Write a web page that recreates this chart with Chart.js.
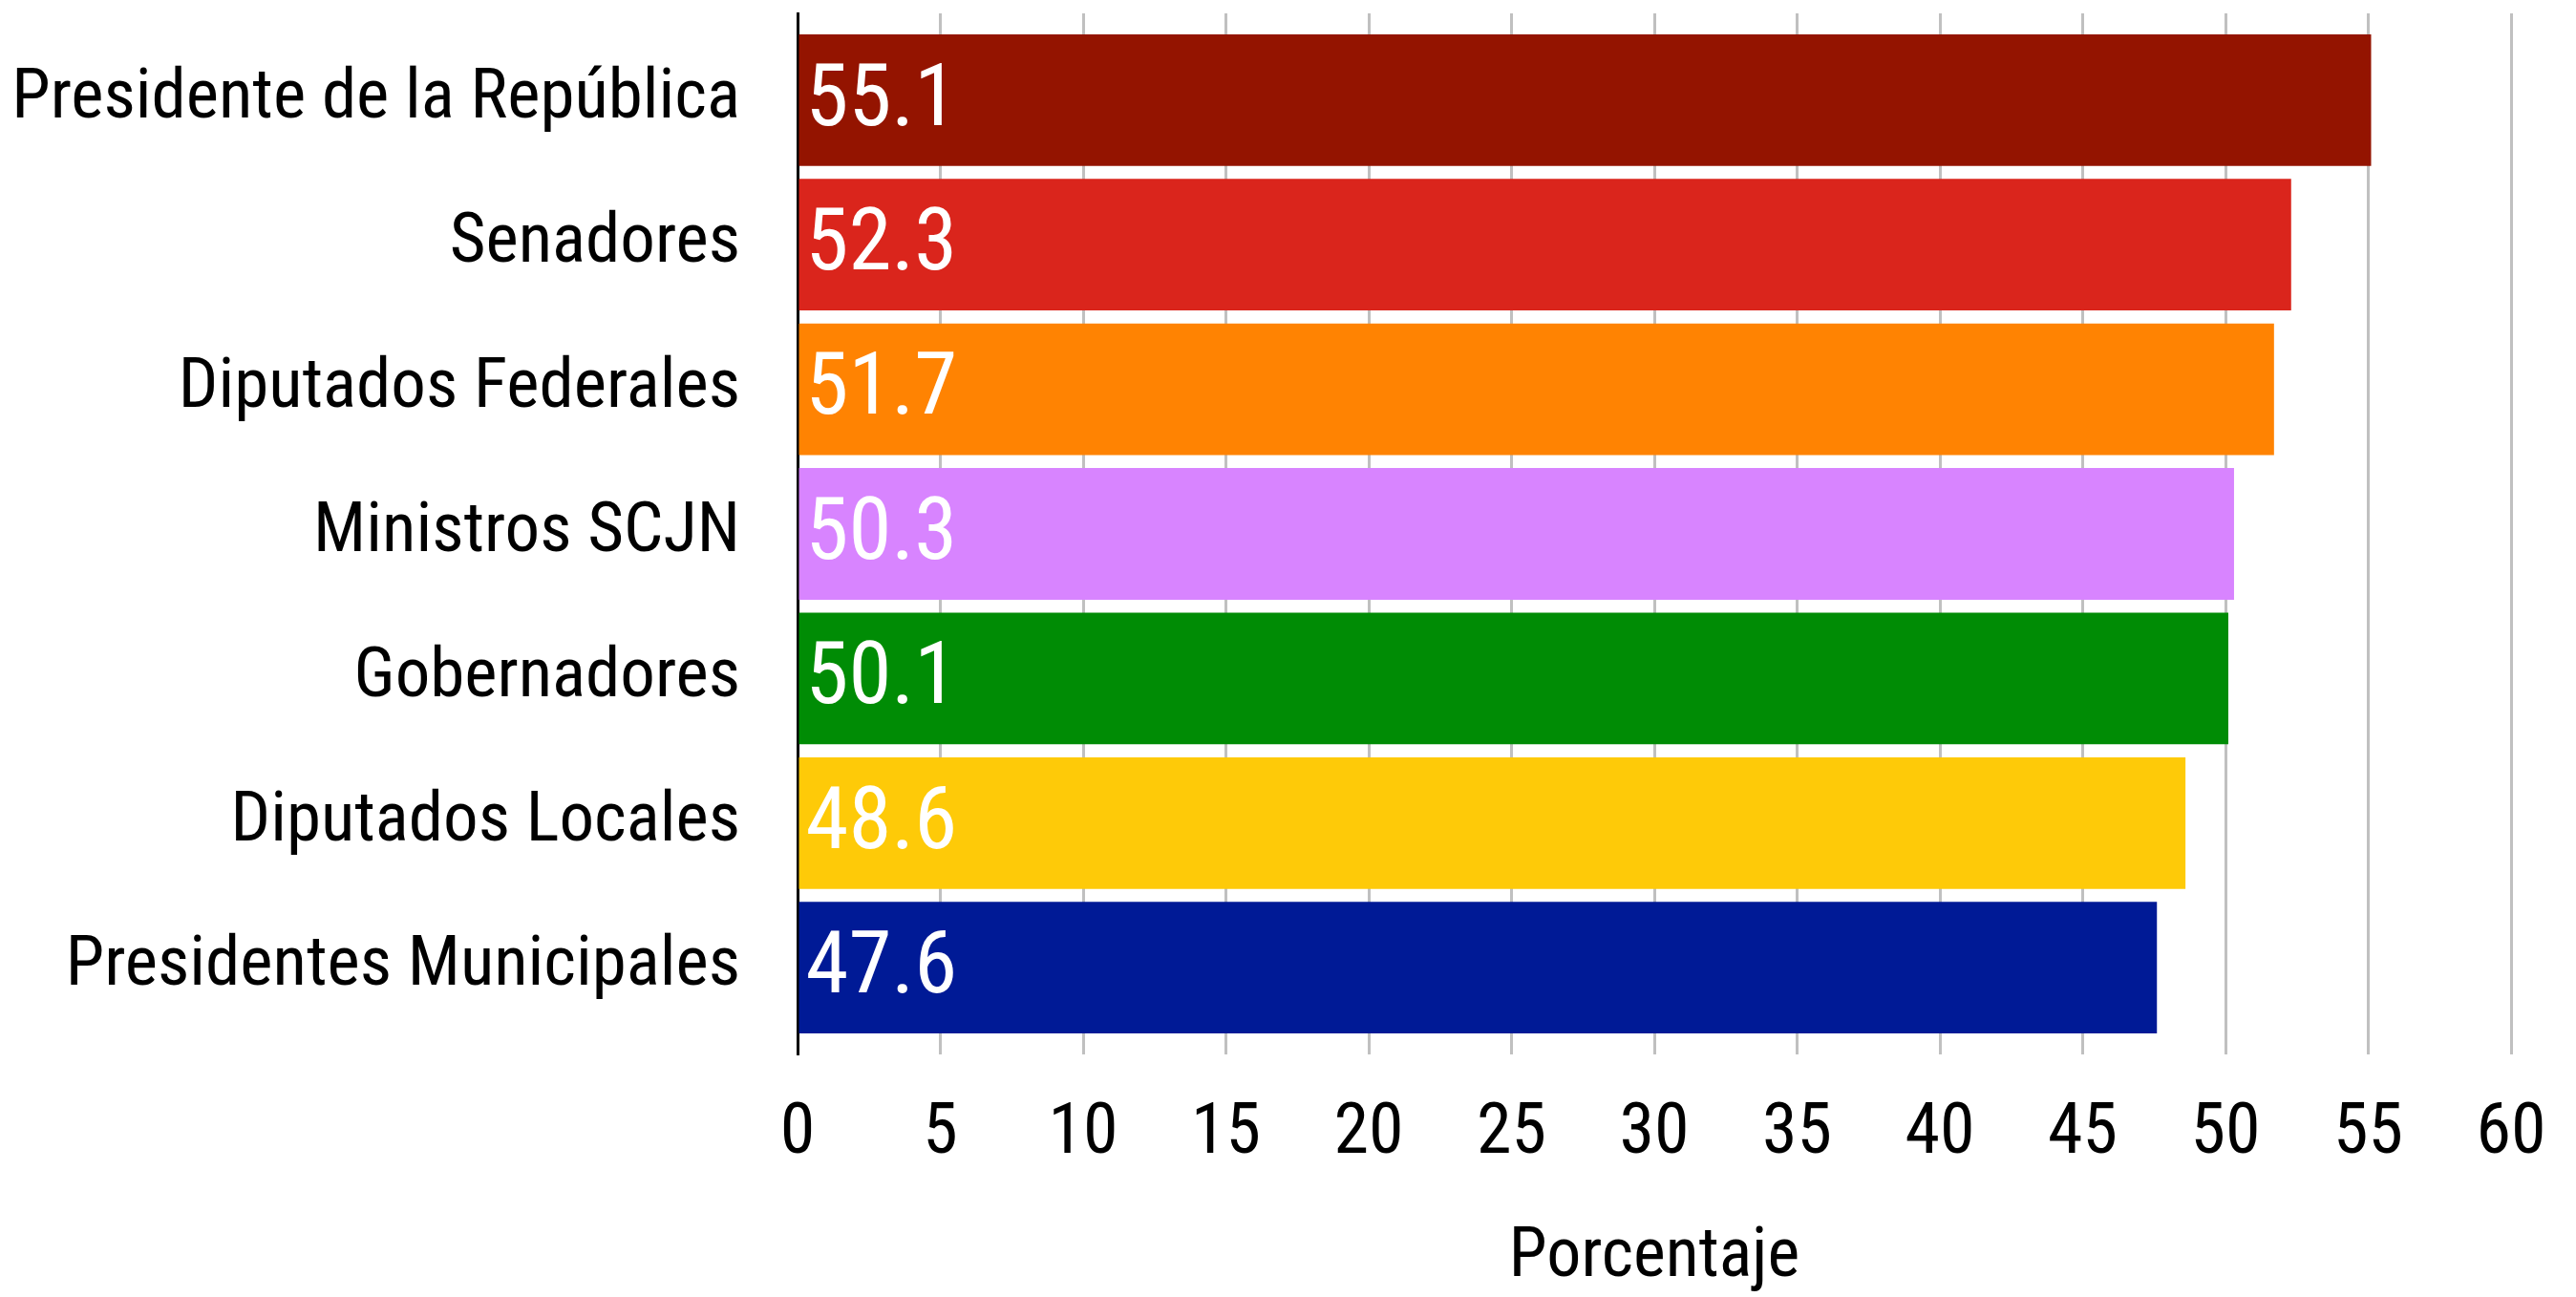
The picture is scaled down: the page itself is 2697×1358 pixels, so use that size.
<!DOCTYPE html>
<html>
<head>
<meta charset="utf-8">
<script src="https://cdn.jsdelivr.net/npm/chart.js@4"></script>
<style>
  html, body { margin: 0; padding: 0; background: #fff; }
  #wrap { width: 2697px; height: 1358px; }
</style>
</head>
<body>
<div id="wrap"><canvas id="chart" width="2697" height="1358"></canvas></div>
<script>
// Categories, values and colours
const categories = [
  'Presidente de la República',
  'Senadores',
  'Diputados Federales',
  'Ministros SCJN',
  'Gobernadores',
  'Diputados Locales',
  'Presidentes Municipales'
];
const values = [55.1, 52.3, 51.7, 50.3, 50.1, 48.6, 47.6];
const barColors = ['#941400', '#da251c', '#ff8302', '#d884ff', '#008c05', '#feca08', '#001a96'];
const xTicks = [0, 5, 10, 15, 20, 25, 30, 35, 40, 45, 50, 55, 60];
const xTitle = 'Porcentaje';

const FONT = "'Roboto Condensed', 'Liberation Sans Narrow', 'DejaVu Sans Condensed', Roboto, sans-serif";

// Bars placed on a linear y axis so the margins around the bars match
const points = values.map((v, i) => ({ x: v, y: i }));

// Write each value in white at the start of its bar
const valueLabels = {
  id: 'valueLabels',
  afterDatasetsDraw(chart) {
    const ctx = chart.ctx;
    const meta = chart.getDatasetMeta(0);
    ctx.save();
    ctx.fillStyle = '#ffffff';
    ctx.font = '91px ' + FONT;
    ctx.textAlign = 'left';
    ctx.textBaseline = 'middle';
    meta.data.forEach((bar, i) => {
      ctx.fillText(values[i].toFixed(1), bar.base + 7, bar.y + 3);
    });
    ctx.restore();
  }
};

new Chart(document.getElementById('chart'), {
  type: 'bar',
  data: {
    datasets: [{
      data: points,
      backgroundColor: barColors,
      borderWidth: 0,
      barPercentage: 0.91,
      categoryPercentage: 1
    }]
  },
  options: {
    indexAxis: 'y',
    responsive: false,
    animation: false,
    layout: { padding: { top: 14, right: 68, bottom: 0, left: 0 } },
    plugins: {
      legend: { display: false },
      tooltip: { enabled: false }
    },
    scales: {
      x: {
        type: 'linear',
        min: 0,
        max: 60,
        afterBuildTicks: scale => { scale.ticks = xTicks.map(v => ({ value: v })); },
        afterFit: scale => {
          scale.height = 254;
          scale.paddingLeft = 0;
          scale.paddingRight = 0;
        },
        grid: { color: '#c0c0c0', lineWidth: 3, drawTicks: false },
        border: { display: false },
        ticks: { color: '#000', font: { family: FONT, size: 74 }, padding: 40, maxRotation: 0 },
        title: {
          display: true,
          text: xTitle,
          color: '#000',
          font: { family: FONT, size: 72 },
          padding: { top: 0, bottom: -3 }
        }
      },
      y: {
        type: 'linear',
        reverse: true,
        offset: false,
        min: -0.6,
        max: 6.6,
        afterBuildTicks: scale => { scale.ticks = categories.map((c, i) => ({ value: i })); },
        afterFit: scale => {
          scale.width = 835;
          scale.paddingTop = 0;
          scale.paddingBottom = 0;
        },
        grid: { display: false, drawTicks: false, offset: false },
        border: { display: true, color: '#000', width: 3 },
        ticks: {
          color: '#000',
          font: { family: FONT, size: 73 },
          padding: 60,
          callback: v => categories[v]
        }
      }
    }
  },
  plugins: [valueLabels]
});
</script>
</body>
</html>
